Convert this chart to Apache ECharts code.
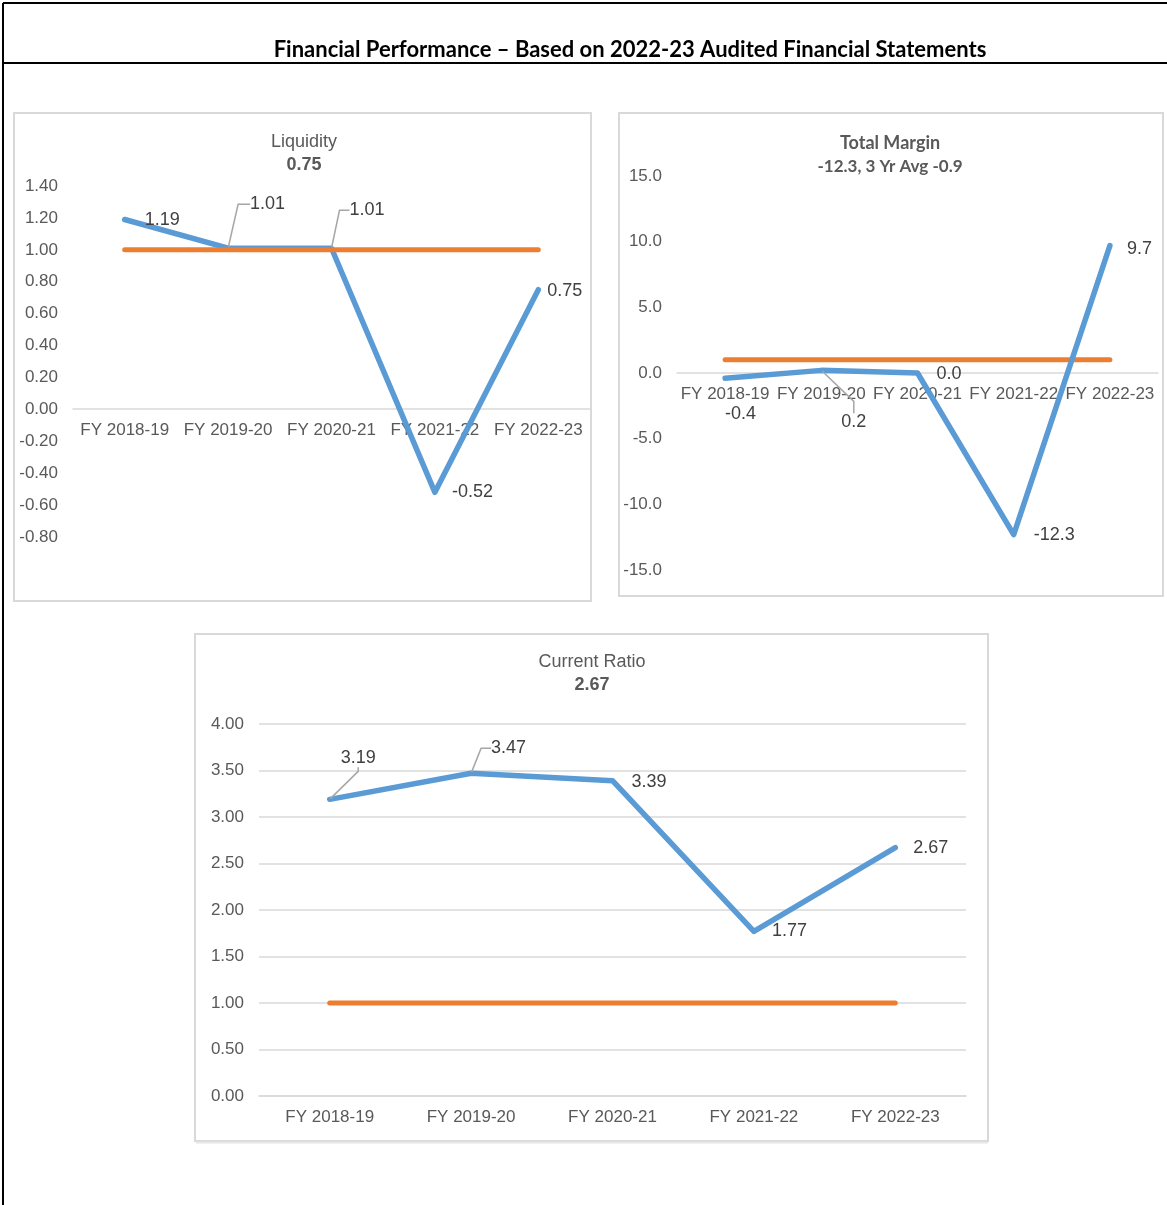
<!DOCTYPE html>
<html>
<head>
<meta charset="utf-8">
<title>Financial Performance</title>
<script src="https://cdn.jsdelivr.net/npm/echarts@6/dist/echarts.min.js"></script>
<style>
  html, body { margin: 0; padding: 0; background: #fff; }
  #main { width: 1167px; height: 1205px; }
</style>
</head>
<body>
<div id="main"></div>
<script>
// values
const years = ['FY 2018-19', 'FY 2019-20', 'FY 2020-21', 'FY 2021-22', 'FY 2022-23'];

const liquidity = [1.19, 1.01, 1.01, -0.52, 0.75];
const liquidityTarget = [1, 1, 1, 1, 1];
const liquidityTicks = [-0.8, -0.6, -0.4, -0.2, 0, 0.2, 0.4, 0.6, 0.8, 1.0, 1.2, 1.4];

const totalMargin = [-0.4, 0.2, 0.0, -12.3, 9.7];
const totalMarginTarget = [1, 1, 1, 1, 1];
const totalMarginTicks = [-15, -10, -5, 0, 5, 10, 15];

const currentRatio = [3.19, 3.47, 3.39, 1.77, 2.67];
const currentRatioTarget = [1, 1, 1, 1, 1];
const currentRatioTicks = [0, 0.5, 1, 1.5, 2, 2.5, 3, 3.5, 4];

const BLUE = '#5b9bd5';
const ORANGE = '#ed7d31';
const AXIS_TEXT = '#595959';
const LABEL_TEXT = '#404040';
const GRID_LINE = '#d9d9d9';

// label nudges (dx, dy) and leader lines, per point
const liquidityNudge = [[11, 1], [13, -44], [9, -38], [8, 0], [0, 1]];
const liquidityLeader = [0, 12, 10, 0, 0];
const marginNudge = [[-9, 36], [11, 52], [10, 1], [11, 0], [8, 3]];
const marginLeader = [0, 12, 0, 0, 0];
const ratioNudge = [[2, -41], [11, -25], [10, 1], [9, 0], [9, 0]];
const ratioLeader = [4, 10, 0, 0, 0];

function buildData(values, leaders) {
  return values.map((v, i) => leaders[i]
    ? { value: v, labelLine: { show: true, length2: leaders[i] } }
    : v);
}

function yAxisFor(gridIndex, ticks, digits, showSplit) {
  return {
    type: 'value',
    gridIndex: gridIndex,
    min: ticks[0],
    max: ticks[ticks.length - 1],
    interval: +(ticks[1] - ticks[0]).toFixed(4),
    axisLine: { show: false },
    axisTick: { show: false },
    splitLine: { show: showSplit, lineStyle: { color: GRID_LINE, width: 1.5 } },
    axisLabel: {
      margin: 15,
      color: AXIS_TEXT,
      fontFamily: 'Liberation Sans',
      fontSize: 17,
      formatter: v => v.toFixed(digits)
    }
  };
}

// offset lifts the category axis from the grid bottom up to the zero line
function xAxisFor(gridIndex, offset) {
  return {
    type: 'category',
    gridIndex: gridIndex,
    data: years,
    offset: offset,
    axisTick: { show: false },
    axisLine: { onZero: false, lineStyle: { color: GRID_LINE, width: 1.5 } },
    axisLabel: {
      interval: 0,
      margin: 13,
      color: AXIS_TEXT,
      fontFamily: 'Liberation Sans',
      fontSize: 17
    }
  };
}

function valueSeries(idx, values, leaders, nudge, digits, z) {
  return {
    type: 'line',
    xAxisIndex: idx,
    yAxisIndex: idx,
    data: buildData(values, leaders),
    symbol: 'circle',
    symbolSize: 2,
    z: z,
    itemStyle: { color: BLUE },
    lineStyle: { color: BLUE, width: 5.5, cap: 'round', join: 'round' },
    label: {
      show: true,
      position: 'right',
      distance: 8,
      color: LABEL_TEXT,
      fontFamily: 'Liberation Sans',
      fontSize: 18,
      formatter: p => p.value.toFixed(digits)
    },
    labelLine: { show: false, lineStyle: { color: '#a6a6a6', width: 1.5 } },
    labelLayout: p => ({ dx: nudge[p.dataIndex][0], dy: nudge[p.dataIndex][1] }),
    animation: false
  };
}

function targetSeries(idx, values, z) {
  return {
    type: 'line',
    xAxisIndex: idx,
    yAxisIndex: idx,
    data: values,
    symbol: 'none',
    z: z,
    lineStyle: { color: ORANGE, width: 5, cap: 'round' },
    animation: false
  };
}

function text(x, y, str, font, fill) {
  return {
    type: 'text', x: x, y: y, z: 10,
    style: { text: str, font: font, fill: fill || AXIS_TEXT, textAlign: 'center', textVerticalAlign: 'middle' }
  };
}

const chart = echarts.init(document.getElementById('main'));

chart.setOption({
  backgroundColor: '#fff',
  animation: false,
  graphic: [
    // page frame
    { type: 'line', shape: { x1: 3, y1: 3, x2: 1167, y2: 3 }, style: { stroke: '#000', lineWidth: 2 } },
    { type: 'line', shape: { x1: 3, y1: 3, x2: 3, y2: 1205 }, style: { stroke: '#000', lineWidth: 2 } },
    { type: 'line', shape: { x1: 3, y1: 63, x2: 1167, y2: 63 }, style: { stroke: '#000', lineWidth: 2 } },
    // chart panels
    { type: 'rect', shape: { x: 14, y: 113, width: 577, height: 488 }, style: { fill: 'none', stroke: GRID_LINE, lineWidth: 2 } },
    { type: 'rect', shape: { x: 619, y: 113, width: 544, height: 483 }, style: { fill: 'none', stroke: GRID_LINE, lineWidth: 2 } },
    { type: 'rect', shape: { x: 195, y: 634, width: 793, height: 507 }, style: { fill: 'none', stroke: GRID_LINE, lineWidth: 2 } },
    { type: 'line', shape: { x1: 196, y1: 1142.5, x2: 988, y2: 1142.5 }, style: { stroke: '#e6e6e6', lineWidth: 2 } },
    // titles
    text(630, 50, 'Financial Performance \u2013 Based on 2022-23 Audited Financial Statements', 'bold 22px Lato', '#000'),
    text(304, 142, 'Liquidity', '18px "Liberation Sans"'),
    text(304, 165, liquidity[liquidity.length - 1].toFixed(2), 'bold 18px "Liberation Sans"'),
    text(890, 143, 'Total Margin', 'bold 18px Lato'),
    text(890, 167, '-12.3, 3 Yr Avg -0.9', 'bold 17px Lato'),
    text(592, 662, 'Current Ratio', '18px "Liberation Sans"'),
    text(592, 685, currentRatio[currentRatio.length - 1].toFixed(2), 'bold 18px "Liberation Sans"')
  ],
  grid: [
    { left: 73, right: 577, top: 186, bottom: 668, containLabel: false, outerBoundsMode: 'none' },
    { left: 677, right: 9, top: 176, bottom: 635, containLabel: false, outerBoundsMode: 'none' },
    { left: 259, right: 201, top: 724, bottom: 109, containLabel: false, outerBoundsMode: 'none' }
  ],
  xAxis: [xAxisFor(0, -128), xAxisFor(1, -197), xAxisFor(2, 0)],
  yAxis: [
    yAxisFor(0, liquidityTicks, 2, false),
    yAxisFor(1, totalMarginTicks, 1, false),
    yAxisFor(2, currentRatioTicks, 2, true)
  ],
  series: [
    valueSeries(0, liquidity, liquidityLeader, liquidityNudge, 2, 2),
    targetSeries(0, liquidityTarget, 3),
    targetSeries(1, totalMarginTarget, 2),
    valueSeries(1, totalMargin, marginLeader, marginNudge, 1, 3),
    valueSeries(2, currentRatio, ratioLeader, ratioNudge, 2, 2),
    targetSeries(2, currentRatioTarget, 3)
  ]
});
</script>
</body>
</html>
